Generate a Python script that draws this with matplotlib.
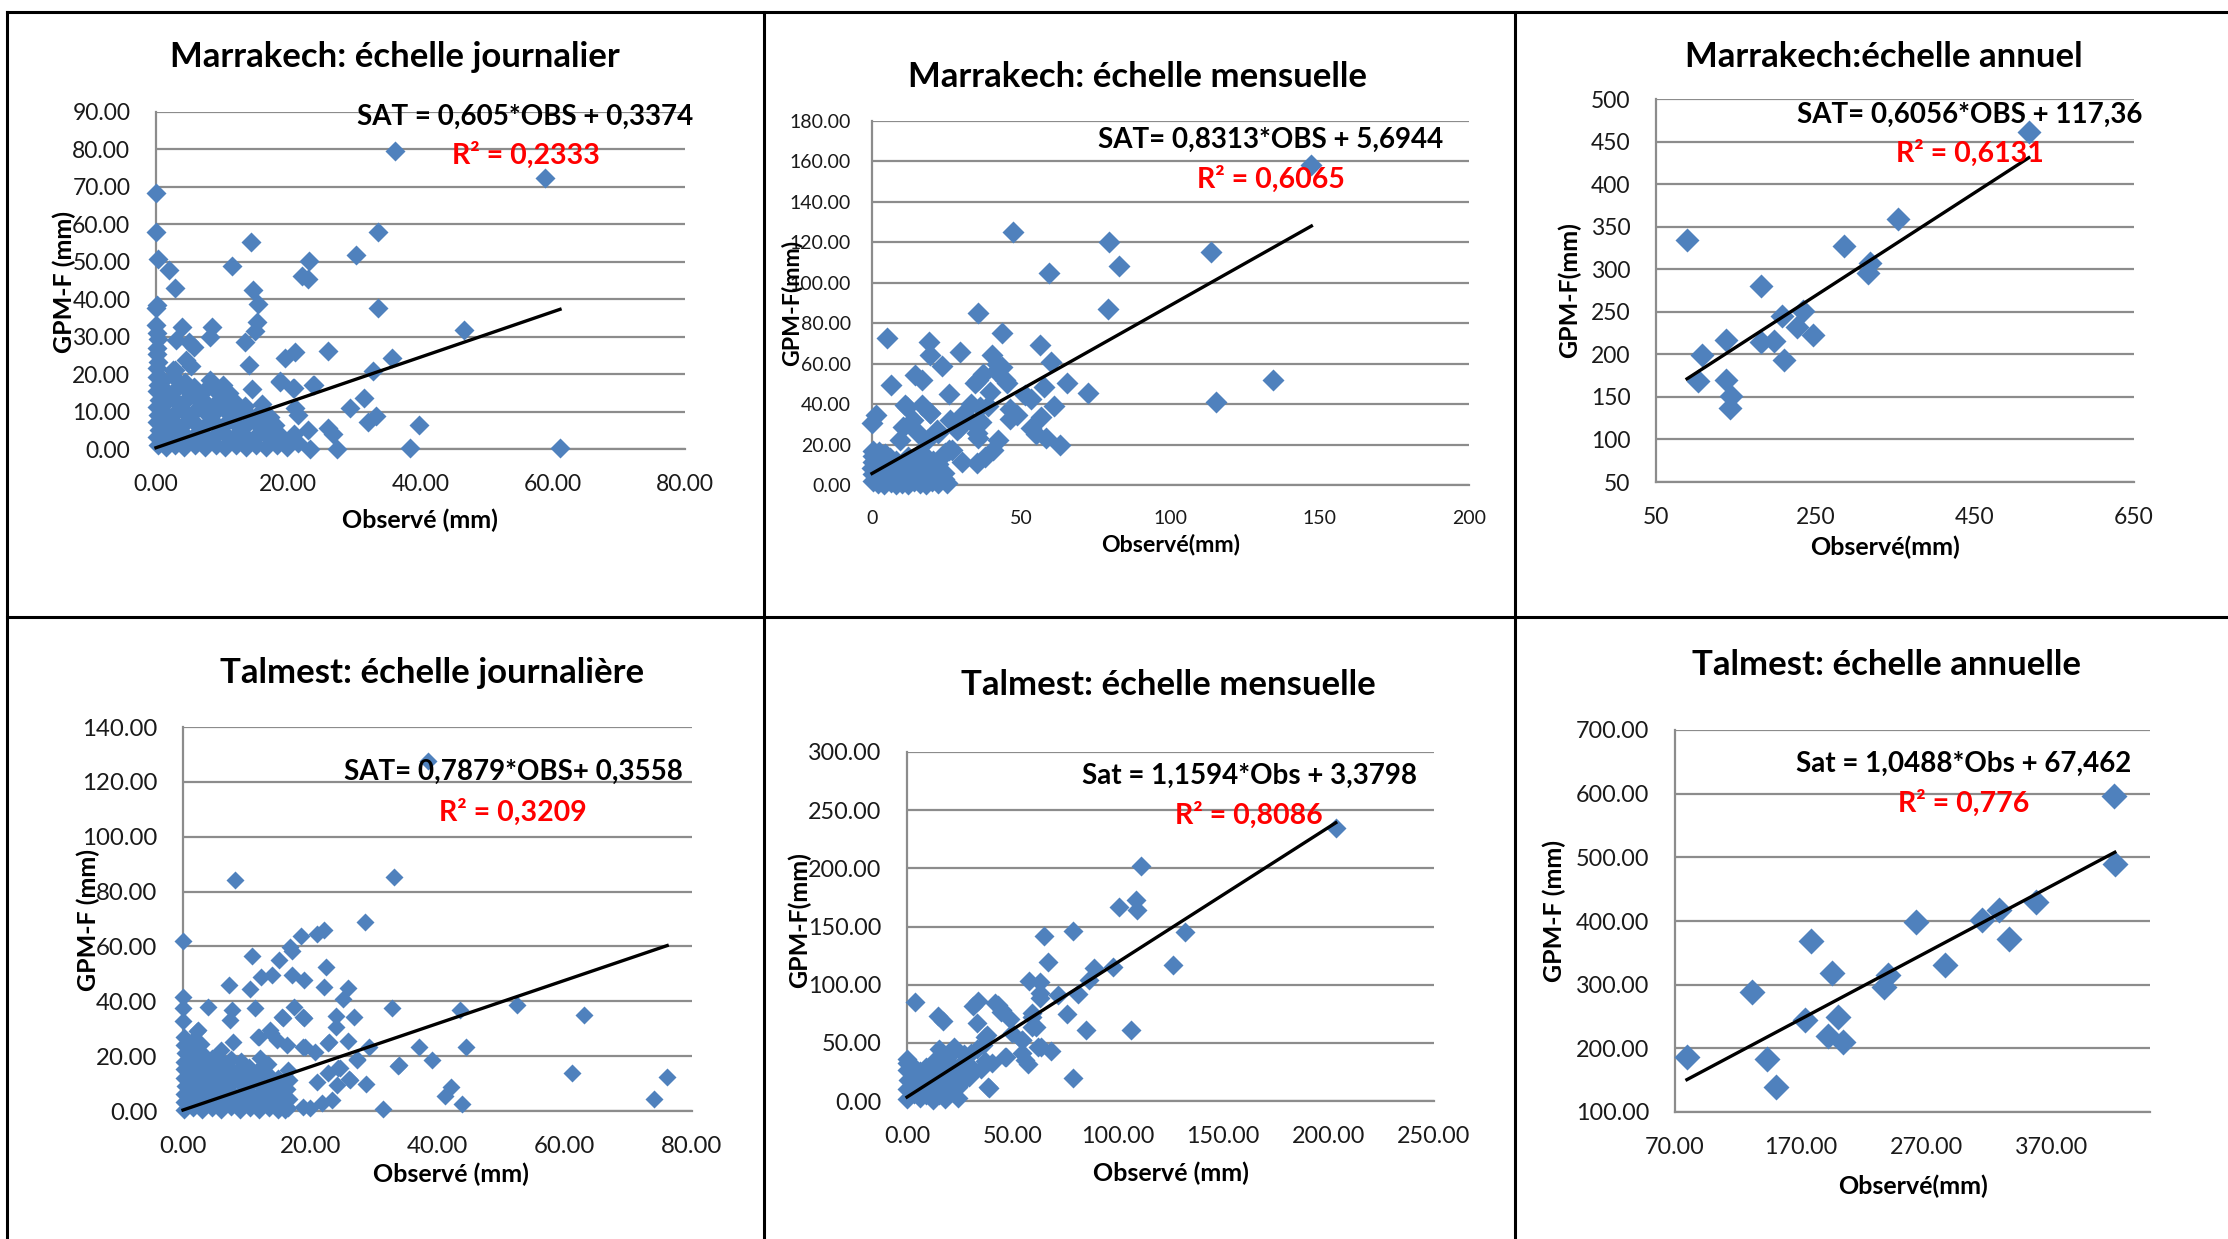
import matplotlib
matplotlib.use('Agg')
import matplotlib.pyplot as plt
from matplotlib.lines import Line2D
from matplotlib.ticker import FormatStrFormatter, MultipleLocator, FixedLocator
import numpy as np

plt.rcParams['font.family'] = ['Lato', 'DejaVu Sans']

W, H = 2228, 1239

# ---------------- DATA ----------------
titles = ["Marrakech: échelle journalier", "Marrakech: échelle mensuelle", "Marrakech:échelle annuel",
          "Talmest: échelle journalière", "Talmest: échelle mensuelle", "Talmest: échelle annuelle"]
equations = ["SAT = 0,605*OBS + 0,3374", "SAT= 0,8313*OBS + 5,6944", "SAT= 0,6056*OBS + 117,36",
             "SAT= 0,7879*OBS+ 0,3558", "Sat = 1,1594*Obs + 3,3798", "Sat = 1,0488*Obs + 67,462"]
r2_labels = ["R² = 0,2333", "R² = 0,6065", "R² = 0,6131", "R² = 0,3209", "R² = 0,8086", "R² = 0,776"]
slopes = [0.605, 0.8313, 0.6056, 0.7879, 1.1594, 1.0488]
intercepts = [0.3374, 5.6944, 117.36, 0.3558, 3.3798, 67.462]
xlabels = ["Observé (mm)", "Observé(mm)", "Observé(mm)", "Observé (mm)", "Observé (mm)", "Observé(mm)"]
ylabels = ["GPM-F (mm)", "GPM-F(mm)", "GPM-F(mm)", "GPM-F (mm)", "GPM-F(mm)", "GPM-F (mm)"]

marrakech_daily = [
    (36.2, 79.6), (58.8, 72.3), (0, 68.5), (0, 58.0), (33.6, 58.0), (14.4, 55.3), (0.3, 50.7), (23.2, 50.1),
    (30.2, 51.8), (1.9, 47.7), (11.5, 49.0), (22.1, 46.1), (23.0, 45.4), (2.9, 43.0), (14.7, 42.4), (0, 37.7),
    (0.1, 38.5), (15.5, 38.8), (33.6, 37.7), (15.2, 34.0), (15.0, 31.4), (3.9, 32.6), (8.5, 32.6), (0, 33.0),
    (46.6, 31.8), (3.1, 29.0), (8.1, 29.8), (13.4, 28.7), (5.0, 28.7), (5.7, 27.3), (26.0, 26.1), (21.0, 26.0),
    (19.5, 24.4), (35.7, 24.4), (4.6, 23.7), (5.3, 22.2), (14.0, 22.4), (32.8, 20.8), (2.9, 21.1), (23.9, 17.1),
    (20.7, 16.4), (18.7, 18.2), (14.5, 16.1), (31.5, 13.6), (29.3, 11.0), (33.2, 8.7), (32.1, 7.1), (39.7, 6.4),
    (26.0, 5.5), (26.7, 3.9), (23.0, 5.2), (38.4, 0.3), (61.1, 0.3), (27.3, 0), (23.3, 0), (21.0, 11.0),
    (21.5, 9.2), (20.8, 3.9), (10.1, 17.1), (23.8, 17.1), (20.8, 16.2), (18.8, 18.0), (2.6, 21.1),
    (0.3, 1.0), (0.2, 3.2), (0.4, 5.1), (0.1, 7.3), (0.3, 9.0), (0.2, 11.2), (0.4, 13.1), (0.1, 15.4),
    (0.3, 17.0), (0.2, 19.3), (0.1, 21.5), (0.3, 23.2), (0.2, 25.4), (0.1, 27.1), (0.3, 29.5), (0.2, 31.0),
    (1.5, 0.5), (1.8, 3.1), (1.2, 6.2), (1.6, 9.1), (1.3, 12.3), (1.7, 15.2), (1.1, 18.4), (1.4, 14.0),
    (2.8, 1.2), (3.0, 4.1), (2.6, 7.3), (3.2, 10.2), (2.9, 13.1), (3.1, 16.0), (2.7, 19.2),
    (4.3, 0.5), (4.5, 3.5), (4.1, 6.5), (4.6, 9.5), (4.2, 12.5), (4.8, 15.5), (4.4, 18.0),
    (5.9, 1.0), (6.2, 4.2), (5.7, 7.1), (6.0, 10.3), (6.3, 13.0), (5.8, 16.5),
    (7.4, 0.5), (7.6, 3.2), (7.2, 6.0), (7.8, 9.1), (7.5, 12.2), (7.1, 15.1), (8.2, 18.3),
    (9.0, 1.1), (9.3, 4.0), (8.8, 7.2), (9.1, 10.1), (9.5, 13.0), (8.6, 16.2),
    (10.5, 0.5), (10.7, 3.5), (10.3, 6.5), (10.9, 9.5), (10.4, 12.1), (11.0, 15.0),
    (12.1, 1.0), (12.3, 4.1), (11.9, 7.0), (12.5, 10.2), (12.0, 12.6),
    (13.6, 0.5), (13.8, 3.0), (13.4, 6.1), (14.0, 9.0), (13.5, 11.5),
    (15.1, 1.0), (15.4, 4.0), (15.0, 7.1), (15.6, 9.5), (16.0, 12.0),
    (16.7, 0.5), (17.0, 3.1), (16.5, 6.0), (17.3, 8.5),
    (18.3, 1.0), (18.6, 4.0), (18.0, 6.5), (19.8, 0.5), (20.2, 2.5), (21.5, 1.5),
]

marrakech_monthly = [
    (147.2, 158.3), (47.2, 125.3), (79.4, 120.2), (113.5, 115.3), (82.6, 108.5), (59.3, 104.6), (79.1, 87.0),
    (35.6, 85.0), (43.7, 75.4), (4.9, 72.9), (19.0, 70.9), (56.2, 69.4), (29.4, 65.7), (19.3, 64.5),
    (40.1, 64.5), (23.5, 58.8), (59.9, 60.6), (43.4, 58.5), (41.7, 56.3), (134.3, 52.0), (65.3, 50.4),
    (6.3, 49.4), (14.4, 54.3), (16.6, 52.0), (37.2, 54.7), (35.6, 51.9), (34.4, 50.4), (57.5, 48.5),
    (72.4, 45.5), (25.8, 44.9), (51.3, 44.5), (53.4, 42.6), (45.1, 50.3), (115.1, 41.0), (60.9, 39.3),
    (11.2, 39.7), (16.6, 39.6), (38.8, 39.3), (36.2, 38.7), (46.1, 37.7), (19.3, 35.8), (1.5, 34.8),
    (48.5, 34.6), (56.7, 33.8), (0, 30.8), (46.1, 32.8), (32.8, 32.1), (36.4, 31.3), (28.4, 27.2),
    (53.4, 28.3), (55.0, 25.0), (58.3, 23.1), (63.1, 19.7), (35.6, 23.1), (42.3, 22.3), (35.1, 25.6),
    (25.8, 17.2), (40.4, 17.2), (37.9, 14.0), (35.1, 10.7), (30.0, 11.5), (24.5, 15.7), (26.7, 17.3),
    (11.6, 38.7), (19.4, 35.5), (10.5, 28.8), (13.8, 32.1), (15.5, 25.6), (21.7, 27.2), (26.1, 32.1),
    (29.5, 28.8), (9.4, 22.3), (18.3, 22.3), (22.0, 25.6), (30.5, 35.0), (33.0, 40.0), (39.5, 46.0),
    (42.0, 60.0), (44.5, 52.0),
    (0.2, 2.0), (0.4, 5.5), (0.1, 8.5), (0.3, 11.5), (0.2, 14.5), (0.5, 17.0), (2.1, 1.0), (2.3, 4.2),
    (1.9, 7.3), (2.2, 10.4), (2.0, 13.3), (2.4, 16.2), (4.1, 0.5), (4.3, 3.4), (3.9, 6.2), (4.2, 9.3),
    (4.0, 12.1), (4.4, 15.3), (6.2, 1.3), (6.0, 4.5), (6.3, 7.2), (5.9, 10.1), (6.1, 13.4), (8.2, 0.4),
    (8.0, 3.1), (8.3, 6.4), (7.9, 9.2), (8.1, 12.0), (10.2, 1.1), (10.0, 4.3), (10.3, 7.1), (9.9, 10.2),
    (12.1, 0.3), (12.3, 3.2), (11.9, 6.1), (12.2, 9.4), (12.0, 14.0), (14.2, 2.2), (13.9, 5.3), (14.1, 8.1),
    (14.3, 12.2), (16.0, 1.2), (16.2, 4.1), (15.9, 7.3), (16.1, 11.1), (16.3, 16.2), (18.1, 0.4), (18.3, 3.1),
    (17.9, 6.2), (18.2, 9.3), (18.0, 13.2), (20.2, 2.1), (19.9, 5.2), (20.1, 8.3), (20.3, 12.1), (22.0, 1.2),
    (22.2, 4.1), (21.9, 7.2), (22.1, 10.3), (24.0, 3.2), (24.2, 6.1), (25.1, 1.1),
]

marrakech_annual = [
    (89.0, 333.9), (517.9, 461.4), (354.3, 359.4), (286.5, 327.4), (318.1, 307.4), (316.4, 295.8),
    (182.0, 280.5), (207.9, 244.8), (234.8, 250.4), (227.4, 232.7), (247.5, 223.0), (137.3, 217.0),
    (181.5, 214.2), (198.7, 216.1), (107.4, 199.8), (210.7, 193.8), (137.3, 169.7), (102.8, 168.3),
    (144.7, 150.6), (142.9, 136.7),
]

talmest_daily = [
    (38.5, 127.5), (8.2, 84.1), (33.1, 85.4), (28.6, 68.9), (0, 61.9), (22.2, 66.0), (21.1, 64.4), (18.5, 63.7),
    (16.8, 59.8), (17.1, 58.5), (10.9, 56.6), (15.1, 55.1), (22.4, 52.4), (14.0, 49.6), (12.2, 48.9),
    (17.1, 49.6), (19.0, 47.9), (7.2, 46.0), (22.2, 45.3), (25.9, 45.0), (10.5, 44.5), (0, 41.6), (25.2, 40.9),
    (52.5, 38.7), (3.9, 38.0), (11.3, 37.7), (17.4, 38.0), (32.8, 37.7), (43.5, 37.0), (7.7, 36.8),
    (63.0, 35.1), (24.0, 34.8), (26.8, 34.1), (19.0, 33.9), (15.7, 33.9), (0, 32.9), (24.0, 30.8), (2.2, 29.0),
    (13.9, 28.6), (12.0, 26.8), (22.9, 25.0), (25.9, 25.7), (37.1, 23.5), (44.5, 23.5), (29.3, 23.2),
    (19.1, 23.5), (39.2, 18.7), (33.8, 16.5), (27.4, 18.9), (24.6, 15.5), (26.1, 11.5), (28.8, 9.7),
    (24.2, 9.4), (61.2, 13.8), (76.1, 12.3), (42.1, 8.6), (41.2, 5.4), (74.1, 4.4), (43.9, 2.5), (31.5, 0.6),
    (23.4, 3.9), (21.8, 2.8), (19.9, 1.0), (18.8, 1.3), (0, 37.7), (7.4, 33.2), (15.5, 34.2), (18.9, 34.2),
    (13.7, 29.5), (2.3, 29.5), (11.8, 27.1), (14.7, 25.9), (16.3, 24.1), (18.9, 23.4), (20.8, 21.6),
    (22.8, 24.7), (27.3, 18.6), (33.9, 16.8), (26.3, 11.3), (22.8, 13.7), (24.4, 15.6), (21.0, 10.7), (16.0, 0.4),
    (0.1, 0.3), (0.2, 3.1), (0.1, 6.2), (0.3, 9.0), (0.2, 12.1), (0.1, 15.3), (0.2, 18.0), (0.3, 21.2),
    (0.1, 24.1), (0.2, 27.0), (1.5, 1.2), (1.6, 4.3), (1.4, 7.1), (1.5, 10.2), (1.7, 13.0), (1.4, 16.3),
    (1.6, 19.1), (1.5, 22.4), (1.3, 25.2), (3.0, 0.4), (3.1, 3.3), (2.9, 6.1), (3.2, 9.2), (3.0, 12.3),
    (2.8, 15.1), (3.1, 18.2), (3.0, 21.0), (2.9, 24.3), (4.5, 1.1), (4.6, 4.2), (4.4, 7.3), (4.5, 10.1),
    (4.7, 13.2), (4.4, 16.0), (4.6, 19.3), (6.0, 0.2), (6.1, 3.1), (5.9, 6.3), (6.2, 9.1), (6.0, 12.2),
    (5.8, 15.0), (6.1, 18.3), (6.0, 22.1), (7.5, 1.3), (7.6, 4.0), (7.4, 7.2), (7.7, 10.3), (7.5, 13.1),
    (7.3, 16.2), (7.6, 19.0), (7.8, 25.3), (9.0, 0.3), (9.1, 3.2), (8.9, 6.0), (9.2, 9.3), (9.0, 12.1),
    (8.8, 15.2), (9.1, 18.1), (10.5, 1.1), (10.6, 4.3), (10.4, 7.0), (10.7, 10.2), (10.5, 13.3), (10.3, 16.1),
    (12.0, 0.2), (12.1, 3.0), (11.9, 6.2), (12.2, 9.1), (12.0, 12.3), (11.8, 15.0), (12.1, 19.2),
    (13.5, 1.2), (13.6, 4.1), (13.4, 7.3), (13.7, 10.0), (13.5, 13.2), (13.3, 17.1),
    (15.0, 0.3), (15.1, 3.2), (14.9, 6.1), (15.2, 9.2), (15.0, 12.0),
    (16.5, 1.0), (16.6, 4.2), (16.4, 8.1), (16.7, 11.2), (16.5, 15.1),
]

talmest_monthly = [
    (203.4, 234.3), (111.0, 202.2), (100.4, 167.0), (108.5, 173.1), (108.9, 163.9), (78.6, 146.4),
    (131.9, 145.4), (64.8, 142.0), (67.1, 119.4), (126.4, 117.0), (88.5, 114.6), (97.7, 115.6), (86.2, 103.7),
    (57.9, 103.0), (63.0, 102.3), (80.9, 92.0), (71.7, 90.7), (63.2, 92.7), (63.0, 88.3), (3.9, 85.2),
    (33.8, 85.9), (31.5, 81.8), (43.0, 82.4), (44.6, 76.6), (75.8, 74.9), (14.7, 72.9), (17.2, 68.8),
    (33.1, 67.1), (48.7, 70.5), (85.0, 61.2), (106.2, 61.2), (59.1, 72.2), (61.3, 63.6), (54.5, 52.3),
    (37.9, 56.8), (47.1, 38.0), (57.2, 31.8), (63.6, 46.5), (68.2, 43.1), (54.5, 41.4), (37.2, 34.6),
    (34.9, 27.7), (39.1, 11.3), (78.6, 19.8), (24.1, 2.7), (29.2, 20.9), (22.3, 46.5), (30.3, 41.4),
    (15.4, 44.8), (0, 36.3), (41.7, 84.2), (44.9, 78.2), (49.7, 58.2), (59.2, 63.9), (59.2, 75.4),
    (40.2, 32.4), (37.0, 55.3), (46.5, 38.1), (56.0, 35.3), (54.4, 52.5), (62.3, 46.7), (38.6, 12.3),
    (33.0, 45.0), (27.0, 40.0), (36.0, 48.0),
    (0.2, 2.1), (0.1, 10.2), (0.3, 18.1), (0.2, 26.3), (0.1, 33.0), (3.1, 6.2), (2.9, 14.1), (3.2, 22.3),
    (3.0, 30.1), (6.1, 2.3), (5.9, 10.1), (6.2, 18.2), (6.0, 26.1), (9.1, 5.2), (8.9, 13.3), (9.2, 21.1),
    (9.0, 29.2), (12.1, 1.2), (11.9, 9.3), (12.2, 17.1), (12.0, 25.2), (12.1, 33.3), (15.1, 5.1), (14.9, 13.2),
    (15.2, 21.3), (15.0, 29.1), (15.1, 37.2), (18.1, 2.1), (17.9, 10.2), (18.2, 18.1), (18.0, 26.2),
    (18.1, 34.3), (21.1, 8.2), (20.9, 16.1), (21.2, 24.3), (21.0, 32.1), (21.1, 40.2), (24.1, 12.1),
    (23.9, 20.2), (24.2, 28.1), (27.1, 18.2), (26.9, 26.1), (27.2, 34.3), (30.1, 22.2), (29.9, 30.1),
]

talmest_annual = [
    (79.5, 186.4), (130.9, 287.7), (142.9, 183.2), (150.2, 139.4), (178.3, 369.1), (173.2, 244.6),
    (195.0, 319.0), (191.4, 219.5), (199.4, 248.9), (203.8, 210.1), (236.6, 295.9), (239.5, 315.9),
    (261.8, 399.1), (285.1, 330.3), (314.3, 401.0), (327.7, 417.9), (336.1, 371.0), (356.9, 430.4),
    (419.3, 596.2), (420.0, 489.9),
]

datasets = [marrakech_daily, marrakech_monthly, marrakech_annual, talmest_daily, talmest_monthly, talmest_annual]

x_limits = [(0, 80), (0, 200), (50, 650), (0, 80), (0, 250), (70, 448)]
y_limits = [(0, 90), (0, 180), (50, 500), (0, 140), (0, 300), (100, 700)]
x_ticks = [[0, 20, 40, 60, 80], [0, 50, 100, 150, 200], [50, 250, 450, 650],
           [0, 20, 40, 60, 80], [0, 50, 100, 150, 200, 250], [70, 170, 270, 370]]
y_steps = [10, 20, 50, 20, 50, 100]

# ---------------- LAYOUT / STYLE ----------------
axes_px = [(156, 685, 112, 449), (872, 1469, 121, 485), (1656, 2134, 99, 482),
           (183, 692, 727, 1111), (907, 1434, 752, 1101), (1675, 2150, 730, 1112)]
x_fmt = ['%.2f', '%d', '%d', '%.2f', '%.2f', '%.2f']
y_fmt = ['%.2f', '%.2f', '%d', '%.2f', '%.2f', '%.2f']
tick_fs = [16.5, 14, 16.5, 17.3, 16.8, 16.8]
ypad = [18.5, 15, 18.5, 18.5, 18.5, 18.5]
marker_ms = [10.2, 11.7, 12.7, 9.6, 10.5, 13.2]
title_pos = [(395, 57), (1137, 77), (1884, 57), (432, 673), (1168, 685), (1887, 665)]
eq_pos = [(525, 117), (1271, 140), (1970, 115), (513, 772), (1249, 776), (1964, 764)]
r2_pos = [(526, 155), (1271, 179), (1970, 153), (513, 812), (1249, 815), (1964, 803)]
xl_pos = [(420, 520), (1171, 545), (1885, 547), (451, 1174), (1171, 1173), (1913, 1186)]
yl_pos = [(64, 282), (792, 303), (1569, 290), (88, 920), (799, 920), (1554, 911)]
xl_fs = [18, 16.7, 18, 18, 18, 18]

BLUE = '#4F81BD'
GRID = '#8C8C8C'


def fx(px):
    return px / W


def fy(py):
    return 1 - py / H


fig = plt.figure(figsize=(W / 100, H / 100), dpi=100)
fig.patch.set_facecolor('white')

for i in range(6):
    L, R, T, B = axes_px[i]
    ax = fig.add_axes([fx(L), fy(B), (R - L) / W, (B - T) / H])
    pts = np.array(datasets[i], dtype=float)
    obs, sat = pts[:, 0], pts[:, 1]
    ax.plot(obs, sat, linestyle='none', marker='D', ms=marker_ms[i], mfc=BLUE, mec='none',
            clip_on=False, zorder=3)
    xs = np.array([obs.min(), obs.max()])
    ax.plot(xs, slopes[i] * xs + intercepts[i], color='black', lw=2.4, zorder=4, clip_on=False)
    ax.set_xlim(*x_limits[i])
    ax.set_ylim(*y_limits[i])
    ax.xaxis.set_major_locator(FixedLocator(x_ticks[i]))
    ax.yaxis.set_major_locator(MultipleLocator(y_steps[i]))
    ax.xaxis.set_major_formatter(FormatStrFormatter(x_fmt[i]))
    ax.yaxis.set_major_formatter(FormatStrFormatter(y_fmt[i]))
    ax.yaxis.grid(True, color=GRID, lw=1.6)
    ax.set_axisbelow(True)
    for s in ['top', 'right']:
        ax.spines[s].set_visible(False)
    for s in ['left', 'bottom']:
        ax.spines[s].set_color(GRID)
        ax.spines[s].set_linewidth(1.6)
    ax.tick_params(length=0, labelsize=tick_fs[i], colors='#1a1a1a')
    ax.tick_params(axis='x', pad=18)
    ax.tick_params(axis='y', pad=ypad[i])
    ax.set_facecolor('none')

    fig.text(fx(title_pos[i][0]), fy(title_pos[i][1]), titles[i], ha='center', va='center',
             fontsize=25, fontweight='bold', color='black')
    fig.text(fx(eq_pos[i][0]), fy(eq_pos[i][1]), equations[i], ha='center', va='center',
             fontsize=20, fontweight='bold', color='black', zorder=5)
    fig.text(fx(r2_pos[i][0]), fy(r2_pos[i][1]), r2_labels[i], ha='center', va='center',
             fontsize=20.5, fontweight='bold', color='#FF0000', zorder=5)
    fig.text(fx(xl_pos[i][0]), fy(xl_pos[i][1]), xlabels[i], ha='center', va='center',
             fontsize=xl_fs[i], fontweight='bold', color='black')
    fig.text(fx(yl_pos[i][0]), fy(yl_pos[i][1]), ylabels[i], ha='center', va='center',
             fontsize=xl_fs[i], fontweight='bold', color='black', rotation=90)

# panel borders
border_kw = dict(color='black', lw=2.2, transform=fig.transFigure)
fig.add_artist(Line2D([fx(7), 1], [fy(12), fy(12)], **border_kw))
fig.add_artist(Line2D([fx(7), fx(7)], [fy(12), 0], **border_kw))
fig.add_artist(Line2D([fx(764), fx(764)], [fy(12), 0], **border_kw))
fig.add_artist(Line2D([fx(1515), fx(1515)], [fy(12), 0], **border_kw))
fig.add_artist(Line2D([fx(7), 1], [fy(617), fy(617)], **border_kw))

fig.savefig('out.png', dpi=100, facecolor='white')
